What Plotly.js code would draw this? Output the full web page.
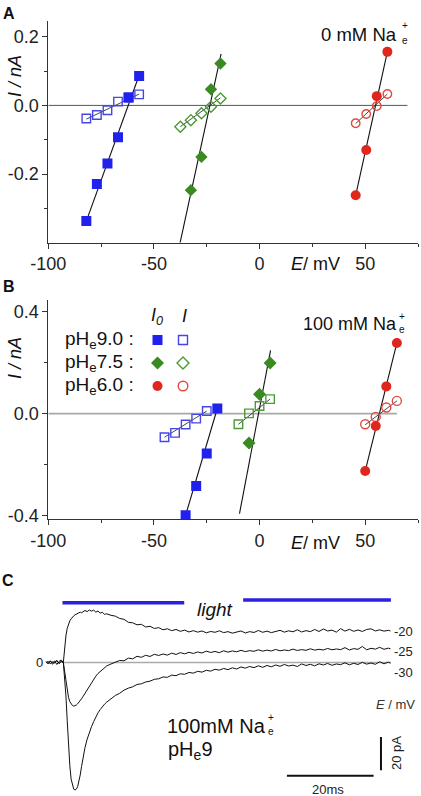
<!DOCTYPE html>
<html><head><meta charset="utf-8">
<script src="https://cdn.plot.ly/plotly-3.0.1.min.js"></script>
<style>html,body{margin:0;padding:0;background:#fff;}#chart{width:421px;height:796px;}</style>
</head><body><div id="chart"></div>
<script>
// ---------- Panel A : 0 mM Na+ (E in mV, I in nA) ----------
const EA_blue = [-82, -77, -72, -67, -62, -57];
const IA_blue0 = [-0.337, -0.229, -0.169, -0.093, 0.024, 0.086];
const IA_blue = [-0.038, -0.028, -0.014, 0.011, 0.022, 0.032];
const EA_green0 = [-32.5, -27.5, -23, -18.5];
const IA_green0 = [-0.247, -0.150, 0.047, 0.122];
const EA_green = [-37.5, -32.5, -27.5, -23, -18.5];
const IA_green = [-0.062, -0.043, -0.023, -0.004, 0.020];
const EA_red = [45.5, 50.5, 55.5, 60.5];
const IA_red0 = [-0.262, -0.130, 0.027, 0.156];
const IA_red = [-0.052, -0.025, -0.002, 0.033];
// fitted lines (end points)
const fitA_blue0_E = [-82, -57], fitA_blue0_I = [-0.337, 0.088];
const fitA_blue_E = [-82, -57], fitA_blue_I = [-0.040, 0.033];
const fitA_green0_E = [-37.6, -18.2], fitA_green0_I = [-0.40, 0.150];
const fitA_green_E = [-37.5, -18.5], fitA_green_I = [-0.062, 0.022];
const fitA_red0_E = [45.5, 60.5], fitA_red0_I = [-0.262, 0.156];
const fitA_red_E = [45.5, 60.5], fitA_red_I = [-0.053, 0.033];

// ---------- Panel B : 100 mM Na+ ----------
const EB_blue0 = [-35, -30, -25, -20];
const IB_blue0 = [-0.400, -0.285, -0.157, 0.020];
const EB_blue = [-45, -40, -35, -30, -25];
const IB_blue = [-0.093, -0.076, -0.043, -0.020, 0.010];
const EB_green0 = [-5, 0, 5];
const IB_green0 = [-0.116, 0.076, 0.199];
const EB_green = [-10, -5, 0, 5];
const IB_green = [-0.042, 0.001, 0.030, 0.057];
const EB_red = [50, 55, 60, 65];
const IB_red0 = [-0.226, -0.049, 0.107, 0.278];
const IB_red = [-0.042, -0.013, 0.024, 0.050];
const fitB_blue0_E = [-35, -20], fitB_blue0_I = [-0.400, 0.020];
const fitB_blue_E = [-45, -25], fitB_blue_I = [-0.093, 0.010];
const fitB_green0_E = [-9.5, 5.2], fitB_green0_I = [-0.394, 0.249];
const fitB_green_E = [-10, 5], fitB_green_I = [-0.042, 0.057];
const fitB_red0_E = [50, 65], fitB_red0_I = [-0.226, 0.278];
const fitB_red_E = [50, 65], fitB_red_I = [-0.044, 0.050];

// axis ticks
const xTicks = [-100, -50, 0, 50], xTickText = ['-100', '-50', '0', '50'], xMinor = [-75, -25, 25, 75];
const yTicksA = [-0.2, 0, 0.2], yTickTextA = ['-0.2', '0.0', '0.2'], yMinorA = [-0.3, -0.1, 0.1];
const yTicksB = [-0.4, 0, 0.4], yTickTextB = ['-0.4', '0.0', '0.4'], yMinorB = [-0.2, 0.2];

// ---------- Panel C : current traces (t in ms, I in pA) ----------
const T = [-4,-3.5,-3,-2.5,-2,-1.5,-1,-0.5,0,
 0.3,0.6,0.9,1.2,1.5,1.8,2.1,2.4,2.7,3.0,3.3,3.6,3.9,4.2,4.6,5.0,5.5,6.0,6.5,7.0,7.5,8.0,8.5,9.0,9.5,10,
 11,12,13,14,15,16,17,18,19,20,21,22,23,24,25,26,27,28,29,30,31,32,33,34,35,36,37,38,39,40,
 41,42,43,44,45,46,47,48,49,50,51,52,53,54,55,56,57,58,59,60,61,62,63,64,65,66,67,68,69,70,
 71,72,73,74,75,75.5];
const I_m20 = [0.5,-0.8,1.0,-0.3,0.9,-1.2,0.6,1.5,0,
 9,16,20.5,23.5,25,26.2,27.3,28,28.6,28.9,29.6,29.5,30.2,29.8,30.6,31.2,30.5,31.5,30.8,31.4,30.2,30.9,29.6,30.1,28.9,29.2,
 28.3,27.8,26.4,25.9,24.1,23.8,22.6,22.9,21.3,21.7,20.4,20.9,19.6,20.2,19.1,19.8,18.7,19.4,18.3,19.1,18.2,18.9,17.8,18.6,18.1,19.0,17.9,18.5,17.6,18.4,
 18.9,17.7,18.5,18.0,19.2,18.1,18.8,17.9,18.7,19.3,18.2,19.0,18.4,19.6,18.3,19.1,18.5,19.8,18.6,20.1,18.9,19.4,18.2,20.3,18.8,19.9,18.7,19.5,18.6,19.8,
 20.2,18.9,19.6,18.8,19.3,18.9];
const I_m25 = [0.4,-0.6,0.9,-1.1,0.3,1.2,-0.5,0.8,0,
 -5,-12,-17,-21,-23.5,-25,-25.8,-26.2,-26,-25.5,-24.8,-24,-23,-21.8,-20.2,-18.5,-16.2,-14,-11.8,-10,-8.2,-6.6,-5.4,-4,-3.3,-2.1,
 -0.9,0.3,1.2,1.0,2.6,2.2,3.7,3.1,4.3,3.6,4.9,4.2,5.1,4.4,5.6,4.8,5.9,5.2,6.1,5.4,6.3,5.7,6.8,6.0,6.6,5.9,7.0,6.2,6.9,6.4,
 7.3,6.5,7.1,6.7,7.6,6.8,7.4,6.9,7.8,7.0,7.5,7.1,8.0,7.2,7.7,7.3,8.2,7.4,7.9,7.5,8.4,7.6,8.1,7.7,8.9,7.5,8.3,7.9,9.6,7.6,
 8.5,8.0,9.1,7.9,8.6,8.2];
const I_m30 = [-0.3,0.7,-0.9,0.5,-0.4,1.1,-0.7,0.4,0,
 -8,-20,-35,-50,-62,-70,-74,-76,-76.5,-76,-74.5,-71.5,-67.5,-62.5,-56.5,-51,-46,-42,-38.5,-35.5,-32.5,-30.2,-28.3,-26.4,-25,-23.8,
 -21.5,-19.8,-18.5,-16.6,-15.4,-14.6,-13.2,-12.8,-11.7,-11.2,-10.1,-9.8,-8.7,-8.9,-7.6,-7.9,-6.8,-7.1,-6.0,-6.4,-5.3,-5.8,-4.7,-5.2,-4.1,-4.6,-3.6,-4.3,-3.2,-3.9,
 -2.7,-3.4,-2.4,-3.1,-2.0,-2.9,-1.8,-2.6,-1.5,-2.3,-1.2,-2.1,-1.6,-2.4,-0.9,-1.8,-1.1,-2.0,-0.8,-1.5,-0.6,-1.7,-0.9,-1.3,-0.2,-1.4,-0.5,-1.2,0.1,-1.0,
 -0.3,-1.1,0.4,-0.8,0.2,-0.4];
const traceLabels = ['-20', '-25', '-30'];
const lightBarsT = [[-0.2, 27.9], [41.5, 75.6]];
const lightBarsLevel = [35.9, 37.5];
const scaleMs = 20, scalePA = 20;

// ---------- styling ----------
const FONT = 'Liberation Sans, Arial, sans-serif';
const BLUE = '#2121ee', BLUE_O = '#4646e8';
const GREEN = '#3a8a22', GREEN_O = '#4c9a36';
const RED = '#e0271d', RED_O = '#e24a40';
const W = 421, H = 796;
const px = x => x / W, py = y => 1 - y / H;

const traces = [];
function fitLine(xa, ya, E, I, w, c) {
  traces.push({x: E, y: I, xaxis: xa, yaxis: ya, mode: 'lines', line: {color: c || '#111', width: w}, hoverinfo: 'skip'});
}
function pts(xa, ya, E, I, sym, size, color, open) {
  traces.push({x: E, y: I, xaxis: xa, yaxis: ya, mode: 'markers', hoverinfo: 'skip',
    marker: {symbol: open ? sym + '-open' : sym, size: size, color: color,
      line: {color: color, width: open ? 1.4 : 0}}});
}
// Panel A
fitLine('x', 'y', fitA_blue0_E, fitA_blue0_I, 1.1);
fitLine('x', 'y', fitA_blue_E, fitA_blue_I, 0.9, '#333');
fitLine('x', 'y', fitA_green0_E, fitA_green0_I, 1.1);
fitLine('x', 'y', fitA_green_E, fitA_green_I, 0.9, '#333');
fitLine('x', 'y', fitA_red0_E, fitA_red0_I, 1.1);
fitLine('x', 'y', fitA_red_E, fitA_red_I, 0.9, '#333');
pts('x', 'y', EA_blue, IA_blue, 'square', 8.5, BLUE_O, true);
pts('x', 'y', EA_blue, IA_blue0, 'square', 10, BLUE, false);
pts('x', 'y', EA_green, IA_green, 'diamond', 8.5, GREEN_O, true);
pts('x', 'y', EA_green0, IA_green0, 'diamond', 9.5, GREEN, false);
pts('x', 'y', EA_red, IA_red, 'circle', 8.5, RED_O, true);
pts('x', 'y', EA_red, IA_red0, 'circle', 10, RED, false);
// Panel B
fitLine('x2', 'y2', fitB_blue0_E, fitB_blue0_I, 1.1);
fitLine('x2', 'y2', fitB_blue_E, fitB_blue_I, 0.9, '#333');
fitLine('x2', 'y2', fitB_green0_E, fitB_green0_I, 1.1);
fitLine('x2', 'y2', fitB_green_E, fitB_green_I, 0.9, '#333');
fitLine('x2', 'y2', fitB_red0_E, fitB_red0_I, 1.1);
fitLine('x2', 'y2', fitB_red_E, fitB_red_I, 0.9, '#333');
pts('x2', 'y2', EB_blue, IB_blue, 'square', 8.5, BLUE_O, true);
pts('x2', 'y2', EB_blue0, IB_blue0, 'square', 10, BLUE, false);
pts('x2', 'y2', EB_green, IB_green, 'square', 8.5, GREEN_O, true);
pts('x2', 'y2', EB_green0, IB_green0, 'diamond', 10, GREEN, false);
pts('x2', 'y2', EB_red, IB_red, 'circle', 9, RED_O, true);
pts('x2', 'y2', EB_red, IB_red0, 'circle', 10, RED, false);
// Panel C
[I_m20, I_m25, I_m30].forEach(arr => traces.push({x: T, y: arr, xaxis: 'x3', yaxis: 'y3', mode: 'lines',
  line: {color: '#111', width: 1}, hoverinfo: 'skip'}));

function xax(domain, anchor) {
  return {domain: domain, anchor: anchor, range: [-100, 75], showline: true, linecolor: '#333', linewidth: 1,
    ticks: 'outside', ticklen: 5, tickwidth: 1, tickcolor: '#333', tickmode: 'array', tickvals: xTicks, ticktext: xTickText,
    tickfont: {family: FONT, size: 18, color: '#222'}, showgrid: false, zeroline: false, fixedrange: true,
    minor: {tickmode: 'array', tickvals: xMinor, ticks: 'outside', ticklen: 3, tickwidth: 1, tickcolor: '#333', showgrid: false}};
}
function yax(domain, anchor, range, tv, tt, mv) {
  return {domain: domain, anchor: anchor, range: range, showline: true, linecolor: '#333', linewidth: 1,
    ticks: 'outside', ticklen: 5, tickwidth: 1, tickcolor: '#333', tickmode: 'array', tickvals: tv, ticktext: tt,
    tickfont: {family: FONT, size: 18, color: '#222'}, showgrid: false, zeroline: false, fixedrange: true,
    minor: {tickmode: 'array', tickvals: mv, ticks: 'outside', ticklen: 3, tickwidth: 1, tickcolor: '#333', showgrid: false}};
}

function ann(text, x, y, size, extra) {
  return Object.assign({text: text, x: px(x), y: py(y), xref: 'paper', yref: 'paper', showarrow: false,
    xanchor: 'center', yanchor: 'middle', font: {family: FONT, size: size, color: '#111'}}, extra || {});
}
const annotations = [
  ann('<b>A</b>', 9, 13, 16), ann('<b>B</b>', 9, 286, 16), ann('<b>C</b>', 8, 580, 16),
  ann('<i>I / nA</i>', 15, 76, 18, {textangle: -90}),
  ann('<i>I / nA</i>', 15, 358, 18, {textangle: -90}),
  ann('<i>E</i>/ mV', 315, 264, 18), ann('<i>E</i>/ mV', 315, 543, 18),
  ann('0 mM Na', 319, 34, 18.5, {xanchor: 'left'}), ann('+', 405, 26, 10), ann('e', 405, 40, 10),
  ann('100 mM Na', 301, 323.5, 18, {xanchor: 'left'}), ann('+', 402, 316, 10), ann('e', 402, 330, 10),
  ann('<i>I</i><sub><i>0</i></sub>', 157, 316, 18), ann('<i>I</i>', 184, 316, 18),
  ann('pH<sub>e</sub>9.0 :', 63, 340, 19, {xanchor: 'left'}),
  ann('pH<sub>e</sub>7.5 :', 63, 363, 19, {xanchor: 'left'}),
  ann('pH<sub>e</sub>6.0 :', 63, 386, 19, {xanchor: 'left'}),
  // panel C
  ann('<i>light</i>', 215, 609, 19),
  ann('0', 39, 662, 13, {font: {family: FONT, size: 13, color: '#222'}}),
  ann(traceLabels[0], 403, 631, 13, {font: {family: FONT, size: 13, color: '#222'}}),
  ann(traceLabels[1], 403, 651, 13, {font: {family: FONT, size: 13, color: '#222'}}),
  ann(traceLabels[2], 403, 672, 13, {font: {family: FONT, size: 13, color: '#222'}}),
  ann('<i>E</i> / mV', 417, 704, 13, {xanchor: 'right', font: {family: FONT, size: 13, color: '#333'}}),
  ann('100mM Na', 165, 726, 20, {xanchor: 'left'}), ann('+', 271, 717, 10), ann('e', 271, 731, 10),
  ann('pH<sub>e</sub>9', 166, 750, 20, {xanchor: 'left'}),
  ann('20 pA', 396, 753, 13, {textangle: -90, font: {family: FONT, size: 13, color: '#222'}}),
  ann('20ms', 328, 789, 13, {font: {family: FONT, size: 13, color: '#222'}})
];

// shapes
const shapes = [
  {type: 'line', xref: 'x', yref: 'y', x0: -100, x1: 70, y0: 0, y1: 0, line: {color: '#555', width: 1}, layer: 'below'},
  {type: 'line', xref: 'x2', yref: 'y2', x0: -100, x1: 65, y0: 0, y1: 0, line: {color: '#a8a8a8', width: 1.6}, layer: 'below'},
  {type: 'line', xref: 'x3', yref: 'y3', x0: 0, x1: 75.6, y0: 0, y1: 0, line: {color: '#aaa', width: 1.6}, layer: 'below'}
];
lightBarsT.forEach((seg, i) => shapes.push({type: 'line', xref: 'x3', yref: 'y3', x0: seg[0], x1: seg[1],
  y0: lightBarsLevel[i], y1: lightBarsLevel[i], line: {color: '#2b20e0', width: 3.5}}));
// scale bars (20 ms, 20 pA)
shapes.push({type: 'line', xref: 'x3', yref: 'y3', x0: 71.6 - scaleMs, x1: 71.6, y0: -68, y1: -68, line: {color: '#111', width: 2}});
shapes.push({type: 'line', xref: 'x3', yref: 'y3', x0: 73.3, x1: 73.3, y0: -64.7, y1: -64.7 + scalePA, line: {color: '#111', width: 2}});
// legend keys (paper coords)
function rectKey(cx, cy, s, color, open) {
  return {type: 'rect', xref: 'paper', yref: 'paper', x0: px(cx - s / 2), x1: px(cx + s / 2), y0: py(cy + s / 2), y1: py(cy - s / 2),
    fillcolor: open ? 'rgba(0,0,0,0)' : color, line: {color: color, width: open ? 1.4 : 0}};
}
function diaKey(cx, cy, r, color, open) {
  const p = 'M' + px(cx) + ',' + py(cy - r) + ' L' + px(cx + r) + ',' + py(cy) + ' L' + px(cx) + ',' + py(cy + r) + ' L' + px(cx - r) + ',' + py(cy) + ' Z';
  return {type: 'path', xref: 'paper', yref: 'paper', path: p, fillcolor: open ? 'rgba(0,0,0,0)' : color, line: {color: color, width: open ? 1.4 : 0}};
}
function circKey(cx, cy, r, color, open) {
  return {type: 'circle', xref: 'paper', yref: 'paper', x0: px(cx - r), x1: px(cx + r), y0: py(cy + r), y1: py(cy - r),
    fillcolor: open ? 'rgba(0,0,0,0)' : color, line: {color: color, width: open ? 1.4 : 0}};
}
shapes.push(rectKey(157.5, 340, 10, BLUE, false), rectKey(183, 340, 9, BLUE_O, true),
  diaKey(157.5, 363, 6.5, GREEN, false), diaKey(183, 363, 6, GREEN_O, true),
  circKey(157.5, 386, 5, RED, false), circKey(183, 386, 4.8, RED_O, true));

const layout = {
  width: W, height: H, margin: {l: 0, r: 0, t: 0, b: 0}, paper_bgcolor: '#fff', plot_bgcolor: 'rgba(0,0,0,0)',
  showlegend: false, font: {family: FONT},
  xaxis: xax([48.3 / W, 418 / W], 'y'),
  yaxis: yax([py(242.7), py(21.3)], 'x', [-0.4, 0.245], yTicksA, yTickTextA, yMinorA),
  xaxis2: xax([48.3 / W, 418 / W], 'y2'),
  yaxis2: yax([py(519.3), py(300)], 'x2', [-0.416, 0.447], yTicksB, yTickTextB, yMinorB),
  xaxis3: {domain: [20 / W, 410 / W], anchor: 'y3', range: [-10, 80], visible: false, fixedrange: true},
  yaxis3: {domain: [py(792.5), py(595.8)], anchor: 'x3', range: [-78, 40], visible: false, fixedrange: true},
  annotations: annotations, shapes: shapes
};
Plotly.newPlot('chart', traces, layout, {staticPlot: true, displayModeBar: false});
</script></body></html>
